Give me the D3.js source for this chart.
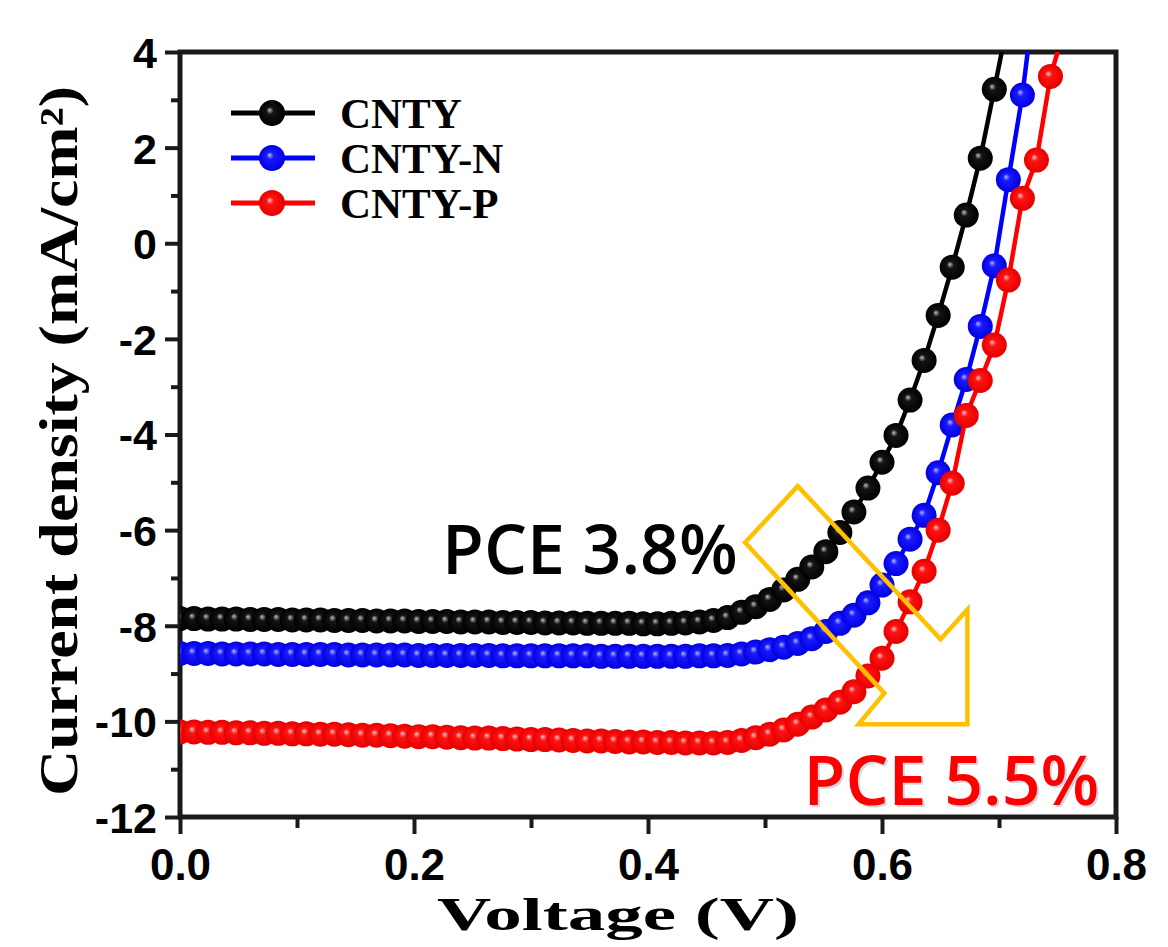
<!DOCTYPE html>
<html>
<head>
<meta charset="utf-8">
<script src="https://cdn.jsdelivr.net/npm/d3@7"></script>
<style>
  body { margin: 0; background: #fff; }
</style>
</head>
<body>
<script>
// voltage sweep (V)
const voltage = [0.000,0.012,0.024,0.036,0.048,0.060,0.072,0.084,0.096,0.108,
  0.120,0.132,0.144,0.156,0.168,0.180,0.192,0.204,0.216,0.228,
  0.240,0.252,0.264,0.276,0.288,0.300,0.312,0.324,0.336,0.348,
  0.360,0.372,0.384,0.396,0.408,0.420,0.432,0.444,0.456,0.468,
  0.480,0.492,0.504,0.516,0.528,0.540,0.552,0.564,0.576,0.588,
  0.600,0.612,0.624,0.636,0.648,0.660,0.672,0.684,0.696,0.708,
  0.720,0.732,0.744,0.756];

// current density (mA/cm2)
const cnty = [-7.85,-7.85,-7.86,-7.86,-7.86,-7.87,-7.87,-7.87,-7.88,-7.88,
  -7.88,-7.89,-7.89,-7.89,-7.90,-7.90,-7.90,-7.91,-7.91,-7.91,
  -7.92,-7.92,-7.92,-7.93,-7.93,-7.93,-7.94,-7.94,-7.94,-7.95,
  -7.95,-7.95,-7.95,-7.96,-7.96,-7.95,-7.94,-7.92,-7.89,-7.83,
  -7.72,-7.60,-7.45,-7.25,-7.03,-6.77,-6.45,-6.05,-5.62,-5.12,
  -4.58,-4.02,-3.28,-2.45,-1.51,-0.50,0.59,1.78,3.22,4.70];

const cntyN = [-8.58,-8.58,-8.58,-8.59,-8.59,-8.59,-8.59,-8.60,-8.60,-8.60,
  -8.60,-8.60,-8.61,-8.61,-8.61,-8.61,-8.61,-8.62,-8.62,-8.62,
  -8.62,-8.62,-8.62,-8.63,-8.63,-8.63,-8.63,-8.63,-8.63,-8.63,
  -8.64,-8.64,-8.64,-8.64,-8.64,-8.64,-8.64,-8.63,-8.63,-8.62,
  -8.59,-8.55,-8.50,-8.45,-8.37,-8.27,-8.12,-7.95,-7.78,-7.52,
  -7.15,-6.70,-6.19,-5.69,-4.80,-3.80,-2.85,-1.74,-0.47,1.33,
  3.10,5.50];

const cntyP = [-10.22,-10.22,-10.23,-10.23,-10.24,-10.24,-10.25,-10.25,-10.26,-10.26,
  -10.27,-10.27,-10.28,-10.29,-10.29,-10.30,-10.31,-10.32,-10.32,-10.33,
  -10.34,-10.35,-10.35,-10.36,-10.37,-10.38,-10.38,-10.39,-10.40,-10.41,
  -10.41,-10.42,-10.43,-10.43,-10.44,-10.44,-10.45,-10.45,-10.45,-10.44,
  -10.40,-10.34,-10.27,-10.18,-10.06,-9.91,-9.76,-9.60,-9.38,-9.05,
  -8.68,-8.12,-7.50,-6.86,-6.00,-5.02,-3.60,-2.87,-2.13,-0.77,
  0.94,1.74,3.49,4.50];

const seriesNames = ["CNTY", "CNTY-N", "CNTY-P"];
const xTicks = [0, 0.2, 0.4, 0.6, 0.8];
const xMinor = [0.1, 0.3, 0.5, 0.7];
const yTicks = [-12, -10, -8, -6, -4, -2, 0, 2, 4];
const yMinor = [-11, -9, -7, -5, -3, -1, 1, 3];
const pceText = ["PCE 3.8%", "PCE 5.5%"];

// outline arrow, in data units (V, mA/cm2)
const arrowV = [0.528, 0.650, 0.673, 0.673, 0.580, 0.602, 0.483];
const arrowJ = [-5.08, -8.28, -7.66, -10.06, -10.06, -9.41, -6.26];

const W = 1168, H = 947;
const x = d3.scaleLinear().domain([0, 0.8]).range([180, 1116]);
const y = d3.scaleLinear().domain([-12, 4]).range([817, 52]);
const axCol = "#1a1a1a";
const sans = "'Liberation Sans', Arial, sans-serif";
const serif = "'Liberation Serif', 'Times New Roman', serif";
const pceFont = "'Open Sans', 'Noto Sans', sans-serif";

const svg = d3.select("body").append("svg")
  .attr("width", W).attr("height", H)
  .style("background", "#fff");

const defs = svg.append("defs");
defs.append("clipPath").attr("id", "plotclip")
  .append("rect").attr("x", 180).attr("y", 52).attr("width", 936).attr("height", 765);

const styles = [
  {color: "#000", hi: "#bdbdbd", mid: "#141414", edge: "#000"},
  {color: "#0000ff", hi: "#b4b4ff", mid: "#1a1aff", edge: "#0000e0"},
  {color: "#ff0000", hi: "#ffc4c4", mid: "#ff1212", edge: "#e60000"}
];
styles.forEach((s, k) => {
  const g = defs.append("radialGradient").attr("id", "ball" + k)
    .attr("cx", 0.5).attr("cy", 0.5).attr("r", 0.5).attr("fx", 0.4).attr("fy", 0.38);
  g.append("stop").attr("offset", 0).attr("stop-color", s.hi);
  g.append("stop").attr("offset", 0.28).attr("stop-color", s.mid);
  g.append("stop").attr("offset", 1).attr("stop-color", s.edge);
});

// ticks
function fmtTicks(g, w) {
  g.select(".domain").remove();
  g.selectAll(".tick line").attr("stroke", axCol).attr("stroke-width", w);
}
svg.append("g").attr("transform", "translate(0,817)")
  .call(d3.axisBottom(x).tickValues(xMinor).tickSize(11).tickFormat(""))
  .call(g => fmtTicks(g, 4));
svg.append("g").attr("transform", "translate(0,817)")
  .call(d3.axisBottom(x).tickValues(xTicks).tickSize(17).tickFormat(d3.format(".1f")))
  .call(g => fmtTicks(g, 4))
  .call(g => g.selectAll("text").attr("y", 63).attr("dy", null)
    .attr("font-family", sans).attr("font-size", 44).attr("font-weight", "bold").attr("fill", "#000"));
svg.append("g").attr("transform", "translate(180,0)")
  .call(d3.axisLeft(y).tickValues(yMinor).tickSize(9).tickFormat(""))
  .call(g => fmtTicks(g, 4));
svg.append("g").attr("transform", "translate(180,0)")
  .call(d3.axisLeft(y).tickValues(yTicks).tickSize(15).tickPadding(8).tickFormat(d => d3.format("d")(d).replace("\u2212", "-")))
  .call(g => fmtTicks(g, 4))
  .call(g => g.selectAll("text").attr("dy", "0.36em")
    .attr("font-family", sans).attr("font-size", 43).attr("font-weight", "bold").attr("fill", "#000"));

// frame
svg.append("rect").attr("x", 180).attr("y", 52).attr("width", 936).attr("height", 765)
  .attr("fill", "none").attr("stroke", axCol).attr("stroke-width", 5);

// data
const allSeries = [cnty, cntyN, cntyP];
const line = d3.line().x((d, i) => x(voltage[i])).y(d => y(d));
const plot = svg.append("g").attr("clip-path", "url(#plotclip)");
allSeries.forEach((vals, k) => {
  const g = plot.append("g");
  g.append("path").datum(vals).attr("d", line)
    .attr("fill", "none").attr("stroke", styles[k].color).attr("stroke-width", 4.5);
  g.selectAll("circle").data(vals).join("circle")
    .attr("cx", (d, i) => x(voltage[i])).attr("cy", d => y(d)).attr("r", 12.5)
    .attr("fill", "url(#ball" + k + ")");
});

// legend
const leg = svg.append("g");
seriesNames.forEach((name, k) => {
  const cy = 113 + k * 45;
  leg.append("line").attr("x1", 231).attr("x2", 315).attr("y1", cy).attr("y2", cy)
    .attr("stroke", styles[k].color).attr("stroke-width", 5);
  leg.append("circle").attr("cx", 272).attr("cy", cy).attr("r", 13)
    .attr("fill", "url(#ball" + k + ")");
  leg.append("text").attr("x", 340).attr("y", cy + 15).text(name)
    .attr("font-family", serif).attr("font-weight", "bold").attr("font-size", 43).attr("fill", "#000");
});

// axis titles
svg.append("text").attr("x", 618).attr("y", 930).attr("text-anchor", "middle")
  .attr("font-family", serif).attr("font-weight", "bold").attr("font-size", 47)
  .attr("textLength", 362).attr("lengthAdjust", "spacingAndGlyphs")
  .text("Voltage (V)");
svg.append("text").attr("transform", "translate(77,441) rotate(-90)").attr("text-anchor", "middle")
  .attr("font-family", serif).attr("font-weight", "bold").attr("font-size", 54)
  .attr("textLength", 710).attr("lengthAdjust", "spacingAndGlyphs")
  .text("Current density (mA/cm\u00b2)");

// annotation arrow
const arrowPts = arrowV.map((v, i) => [x(v), y(arrowJ[i])]);
svg.append("polygon").attr("points", arrowPts.map(p => p.join(",")).join(" "))
  .attr("fill", "none").attr("stroke", "#ffc000").attr("stroke-width", 4.5)
  .attr("stroke-linejoin", "miter");

// PCE labels
svg.append("text").attr("x", x(0.224)).attr("y", y(-6.92)).text(pceText[0])
  .attr("font-family", pceFont).attr("font-weight", 600).attr("font-size", 68).attr("fill", "#000");
svg.append("text").attr("x", x(0.533) + 2).attr("y", y(-11.74) + 2).text(pceText[1])
  .attr("font-family", pceFont).attr("font-weight", 600).attr("font-size", 68)
  .attr("fill", "#9ab").attr("opacity", 0.45);
svg.append("text").attr("x", x(0.533)).attr("y", y(-11.74)).text(pceText[1])
  .attr("font-family", pceFont).attr("font-weight", 600).attr("font-size", 68).attr("fill", "#ff0000");
</script>
</body>
</html>
